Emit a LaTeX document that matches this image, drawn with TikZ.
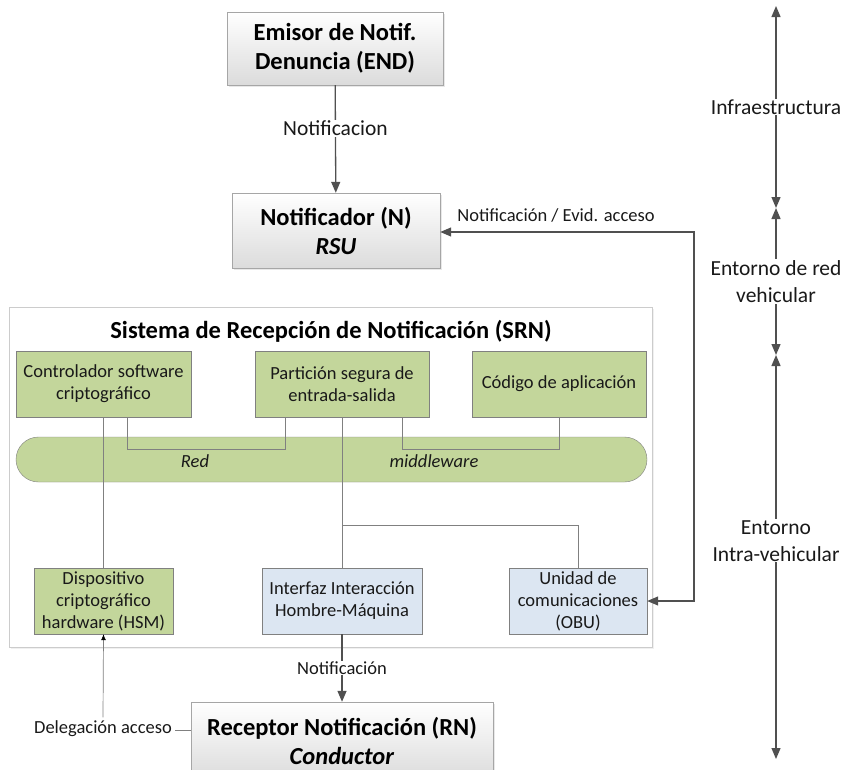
\documentclass[tikz,border=0pt]{standalone}
\usepackage{fontspec}
\setmainfont{Carlito}
\usepackage{tikz}
\usetikzlibrary{arrows.meta, positioning, shadows}

\definecolor{boxgreen}{RGB}{195,214,155}
\definecolor{boxblue}{RGB}{220,230,242}
\definecolor{linegray}{RGB}{128,128,128}
\definecolor{arrgray}{RGB}{80,80,80}

\tikzset{
  txt/.style={font=\fontsize{18.5}{22}\selectfont, text=black!90},
  greenbox/.style={txt, draw=linegray, fill=boxgreen, align=center, inner sep=2pt},
  bluebox/.style={txt, draw=linegray, fill=boxblue, align=center, inner sep=2pt},
  topbox/.style={draw=black!35, top color=white, bottom color=black!14, align=center,
    font=\fontsize{24.5}{29}\selectfont\bfseries,
    drop shadow={opacity=0.18, shadow xshift=2pt, shadow yshift=-2pt}},
  conn/.style={draw=linegray, line width=0.7pt},
  arr/.style={draw=arrgray, line width=1.3pt, -{Triangle[length=11pt, width=9pt]}},
  dblarr/.style={arr, {Triangle[length=11pt, width=9pt]}-{Triangle[length=11pt, width=9pt]}},
  lbl/.style={txt, fill=white, inner sep=1pt},
  biglbl/.style={lbl, font=\fontsize{21.5}{27}\selectfont, align=center}
}

\begin{document}
\begin{tikzpicture}[x=1pt, y=-1pt]
  \useasboundingbox (0,0) rectangle (845,769);

  % Infrastructure boxes
  \node[topbox, minimum width=216pt, minimum height=73pt] (END) at (335,48.5)
    {Emisor de Notif.\\Denuncia (END)};
  \node[topbox, minimum width=208pt, minimum height=75pt] (N) at (336,230.5)
    {Notificador (N)\\\textit{RSU}};
  \draw[arr] (END) -- (N) node[biglbl, pos=0.4] {Notificacion};

  % SRN frame
  \draw[draw=black!20, fill=white, line width=0.8pt,
    drop shadow={opacity=0.12, shadow xshift=2pt, shadow yshift=-2pt}] (9,307) rectangle (652,647);
  \node[font=\fontsize{24.5}{29}\selectfont\bfseries] (srn) at (331,331)
    {Sistema de Recepción de Notificación (SRN)};

  % Software components
  \node[greenbox, minimum width=175pt, minimum height=66pt] (ctrl) at (103.5,384)
    {Controlador software\\criptográfico};
  \node[greenbox, minimum width=174pt, minimum height=66pt] (part) at (342,384)
    {Partición segura de\\entrada-salida};
  \node[greenbox, minimum width=174pt, minimum height=66pt] (cod) at (559,384)
    {Código de aplicación};
  \node[draw=linegray, fill=boxgreen, rounded corners=22.5pt,
    minimum width=631pt, minimum height=45pt] (red) at (331.5,459.5) {};
  \node[txt, font=\fontsize{18.5}{22}\selectfont\itshape] (redlbl) at (195,461) {Red};
  \node[txt, font=\fontsize{18.5}{22}\selectfont\itshape] (mwlbl) at (434,461) {middleware};

  % Hardware components
  \node[greenbox, minimum width=139pt, minimum height=66pt] (hsm) at (103.5,601)
    {Dispositivo\\criptográfico\\hardware (HSM)};
  \node[bluebox, minimum width=160pt, minimum height=66pt] (ihm) at (342,601)
    {Interfaz Interacción\\Hombre-Máquina};
  \node[bluebox, minimum width=138pt, minimum height=66pt] (obu) at (578,601)
    {Unidad de\\comunicaciones\\(OBU)};

  % Internal links
  \draw[conn] ([xshift=23.5pt]ctrl.south) -- ++(0,32) -| ([xshift=-57pt]part.south);
  \draw[conn] ([xshift=60pt]part.south) -- ++(0,32) -| (cod.south);
  \draw[conn] (ctrl.south) -- (hsm.north);
  \draw[conn] (part.south) -- (ihm.north);
  \coordinate (br) at (342,525);
  \draw[conn] (br) -| (obu.north);

  % Driver
  \node[topbox, minimum width=302pt, minimum height=78pt] (RN) at (342,741)
    {Receptor Notificación (RN)\\\textit{Conductor}};
  \draw[arr] (ihm) -- (RN) node[lbl, midway] {Notificación};
  \node[txt] (deleg) at (103,729) {Delegación acceso};
  \draw[conn] ([yshift=-1pt]deleg.east) -- ([yshift=-1pt]deleg.east -| RN.west);
  \draw[conn, -{Latex[length=6pt, width=5pt, black]}] (deleg.north) -- (hsm.south);

  % RSU <-> OBU link
  \coordinate (rc) at (694,232);
  \draw[dblarr] (N.east |- rc) -- (rc) |- (obu.east);
  \node[txt] (evid) at (556,215) {Notificación / Evid. acceso};

  % Environments
  \coordinate (e0) at (776,6);
  \coordinate (e1) at (776,208);
  \coordinate (e2) at (776,355);
  \coordinate (e3) at (776,759);
  \draw[dblarr] (e0) -- (e1) node[biglbl, midway] {Infraestructura};
  \draw[dblarr] (e1) -- (e2) node[biglbl, midway] {Entorno de red\\vehicular};
  \draw[dblarr] (e2) -- (e3) node[biglbl, pos=0.46] {Entorno\\Intra-vehicular};
\end{tikzpicture}
\end{document}
